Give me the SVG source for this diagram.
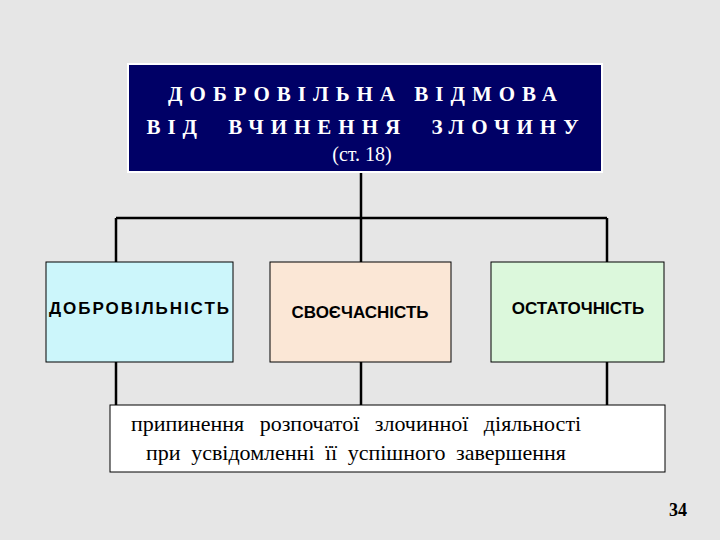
<svg xmlns="http://www.w3.org/2000/svg" width="720" height="540" viewBox="0 0 720 540">
<style>
.ln{stroke:#000;stroke-width:2.5;fill:none}
.bx{stroke:#000;stroke-width:1}
.s{font-family:"Liberation Sans",Arial,sans-serif;font-size:17px;font-weight:bold;text-anchor:middle}
.t{font-family:"Liberation Serif","Times New Roman",serif;text-anchor:middle}
</style>
<rect width="720" height="540" fill="#e6e6e6"/>
<g id="connectors">
<path class="ln" d="M361 172V262M116 218H607M116 218V262M607 218V262M116 362V405M361 362V405M607 362V405"/>
</g>
<g id="top">
<rect x="128" y="64" width="474" height="108" fill="#000066" stroke="#fff" stroke-width="2"/>
<text class="t" x="366" y="101" fill="#fff" font-size="21" font-weight="bold" letter-spacing="7">ДОБРОВІЛЬНА ВІДМОВА</text>
<text class="t" x="366" y="134" fill="#fff" font-size="21" font-weight="bold" letter-spacing="7" word-spacing="12">ВІД ВЧИНЕННЯ ЗЛОЧИНУ</text>
<text class="t" x="362" y="161" fill="#fff" font-size="20">(ст. 18)</text>
</g>
<g id="n1"><rect class="bx" x="46" y="262" width="187" height="100" fill="#ccf6fb"/><text class="s" x="139" y="314" textLength="180">ДОБРОВІЛЬНІСТЬ</text></g>
<g id="n2"><rect class="bx" x="270" y="262" width="181" height="100" fill="#fbe7d6"/><text class="s" x="360" y="318">СВОЄЧАСНІСТЬ</text></g>
<g id="n3"><rect class="bx" x="491" y="262" width="173" height="100" fill="#dcf8dc"/><text class="s" x="578" y="314">ОСТАТОЧНІСТЬ</text></g>
<g id="bottom">
<rect class="bx" x="110" y="405" width="555" height="67" fill="#fff"/>
<text class="t" x="356" y="431" font-size="22" word-spacing="10">припинення розпочатої злочинної діяльності</text>
<text class="t" x="356" y="460" font-size="22" word-spacing="5">при усвідомленні її успішного завершення</text>
</g>
<text class="t" x="678" y="516" font-size="18" font-weight="bold">34</text>
</svg>
